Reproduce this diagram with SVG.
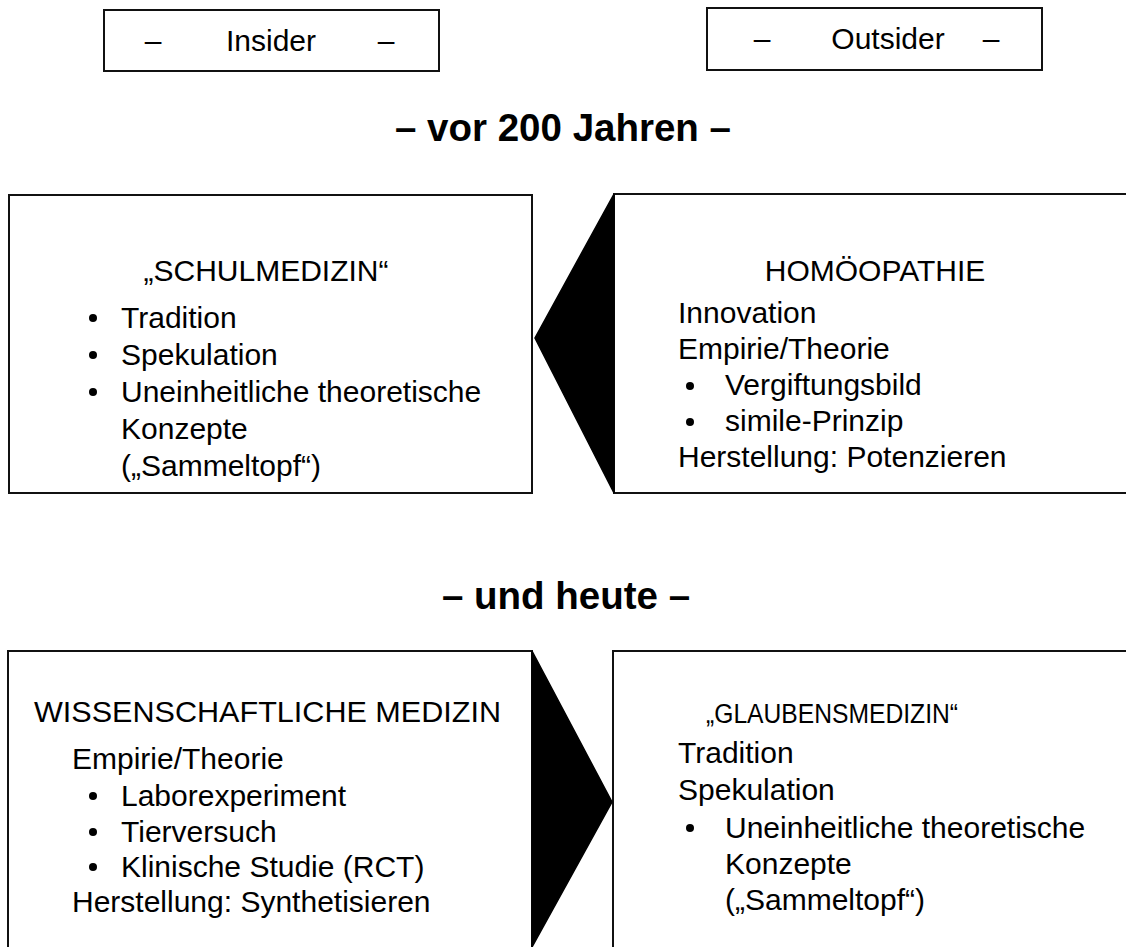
<svg xmlns="http://www.w3.org/2000/svg" width="1126" height="947" viewBox="0 0 1126 947">
<style>
.box{fill:none;stroke:#111;stroke-width:2}
.tri{fill:#000;stroke:#000;stroke-width:1.5}
text{font-family:"Liberation Sans",Arial,sans-serif;fill:#000}
.t{font-size:30px}
.h{font-size:38.5px;font-weight:bold}
.c{text-anchor:middle}
</style>
<rect width="1126" height="947" fill="#fff"/>
<g id="insider">
<rect class="box" x="104" y="10" width="335" height="61"/>
<text class="t" x="153" y="51" text-anchor="middle">–</text>
<text class="t c" x="271" y="51">Insider</text>
<text class="t" x="386" y="51" text-anchor="middle">–</text>
</g>
<g id="outsider">
<rect class="box" x="707" y="8" width="335" height="62"/>
<text class="t" x="762" y="49" text-anchor="middle">–</text>
<text class="t c" x="888" y="49">Outsider</text>
<text class="t" x="991" y="49" text-anchor="middle">–</text>
</g>
<text id="heading1" class="h c" x="563" y="141">– vor 200 Jahren –</text>
<text id="heading2" class="h c" x="566" y="609">– und heute –</text>
<g id="schulmedizin">
<rect class="box" x="9" y="195" width="523" height="298"/>
<text class="t c" x="266" y="281">„SCHULMEDIZIN“</text>
<circle cx="93" cy="318" r="4"/>
<circle cx="93" cy="355" r="4"/>
<circle cx="93" cy="392" r="4"/>
<text class="t" x="121" y="328">Tradition</text>
<text class="t" x="121" y="365">Spekulation</text>
<text class="t" x="121" y="402">Uneinheitliche theoretische</text>
<text class="t" x="121" y="439">Konzepte</text>
<text class="t" x="121" y="476">(„Sammeltopf“)</text>
</g>
<g id="homoeopathie">
<path class="box" d="M1126,194 H614 V493 H1126"/>
<text class="t c" x="875" y="281">HOMÖOPATHIE</text>
<text class="t" x="678" y="323">Innovation</text>
<text class="t" x="678" y="359">Empirie/Theorie</text>
<circle cx="690" cy="386" r="4"/>
<circle cx="690" cy="422" r="4"/>
<text class="t" x="725" y="395">Vergiftungsbild</text>
<text class="t" x="725" y="431">simile-Prinzip</text>
<text class="t" x="678" y="467">Herstellung: Potenzieren</text>
</g>
<g id="wissenschaftliche">
<path class="box" d="M8,947 V651 H532 V947"/>
<text class="t" x="34" y="722" textLength="467" lengthAdjust="spacingAndGlyphs">WISSENSCHAFTLICHE MEDIZIN</text>
<text class="t" x="72" y="769">Empirie/Theorie</text>
<circle cx="93" cy="796" r="4"/>
<circle cx="93" cy="832" r="4"/>
<circle cx="93" cy="867" r="4"/>
<text class="t" x="121" y="806">Laborexperiment</text>
<text class="t" x="121" y="842">Tierversuch</text>
<text class="t" x="121" y="877">Klinische Studie (RCT)</text>
<text class="t" x="72" y="912">Herstellung: Synthetisieren</text>
</g>
<g id="glaubensmedizin">
<path class="box" d="M613,947 V651 H1126"/>
<text x="706" y="723" font-size="27" textLength="252" lengthAdjust="spacingAndGlyphs">„GLAUBENSMEDIZIN“</text>
<text class="t" x="678" y="763">Tradition</text>
<text class="t" x="678" y="800">Spekulation</text>
<circle cx="690" cy="828" r="4"/>
<text class="t" x="725" y="838">Uneinheitliche theoretische</text>
<text class="t" x="725" y="874">Konzepte</text>
<text class="t" x="725" y="910">(„Sammeltopf“)</text>
</g>
<g id="connectors">
<polygon class="tri" points="614,194 535,338 614,493"/>
<polygon class="tri" points="532,651 612,802 532,947"/>
</g>
</svg>
